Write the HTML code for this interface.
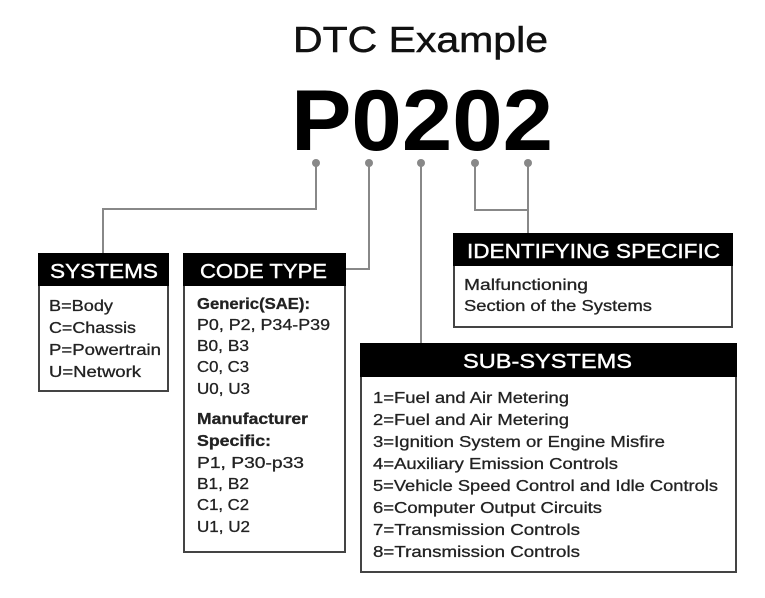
<!DOCTYPE html>
<html><head><meta charset="utf-8"><style>
body{margin:0;background:#fff;}
svg{display:block;font-family:"Liberation Sans",sans-serif;}
</style></head><body>
<svg width="765" height="598" viewBox="0 0 765 598" xmlns="http://www.w3.org/2000/svg">
<rect width="765" height="598" fill="#fff"/>
<text x="293" y="52" font-size="36" fill="#111" stroke="#111" stroke-width="0.5" textLength="255" lengthAdjust="spacingAndGlyphs">DTC Example</text>
<text x="291" y="150" font-size="86" font-weight="bold" fill="#000" textLength="262" lengthAdjust="spacingAndGlyphs">P0202</text>
<g stroke="#888" stroke-width="2" fill="none">
<polyline points="316,163 316,209 103,209 103,253"/>
<polyline points="369,163 369,269 345,269"/>
<polyline points="421,163 421,343"/>
<polyline points="475,163 475,210 528,210"/>
<polyline points="528,163 528,233"/>
</g>
<g fill="#888"><circle cx="316" cy="163" r="4"/><circle cx="369" cy="163" r="4"/><circle cx="421" cy="163" r="4"/><circle cx="475" cy="163" r="4"/><circle cx="528" cy="163" r="4"/></g>
<g font-size="20" fill="#fff" stroke="#fff" stroke-width="0.4">
<rect x="39" y="254" width="129" height="137" fill="#fff" stroke="#444" stroke-width="2"/>
<rect x="38" y="253" width="131" height="33" fill="#000" stroke="none"/>
<text x="50" y="278" textLength="108" lengthAdjust="spacingAndGlyphs">SYSTEMS</text>
<rect x="184" y="254" width="161" height="298" fill="#fff" stroke="#444" stroke-width="2"/>
<rect x="183" y="253" width="163" height="33" fill="#000" stroke="none"/>
<text x="200" y="278" textLength="127" lengthAdjust="spacingAndGlyphs">CODE TYPE</text>
<rect x="454" y="234" width="278" height="93" fill="#fff" stroke="#444" stroke-width="2"/>
<rect x="453" y="233" width="280" height="33" fill="#000" stroke="none"/>
<text x="467" y="258" textLength="253" lengthAdjust="spacingAndGlyphs">IDENTIFYING SPECIFIC</text>
<rect x="361" y="344" width="375" height="228" fill="#fff" stroke="#444" stroke-width="2"/>
<rect x="360" y="343" width="377" height="34" fill="#000" stroke="none"/>
<text x="463" y="368" textLength="169" lengthAdjust="spacingAndGlyphs">SUB-SYSTEMS</text>
</g>
<g font-size="16" fill="#222" stroke="#222" stroke-width="0.3">
<text x="49" y="311" textLength="64" lengthAdjust="spacingAndGlyphs">B=Body</text>
<text x="49" y="333" textLength="87" lengthAdjust="spacingAndGlyphs">C=Chassis</text>
<text x="49" y="355" textLength="112" lengthAdjust="spacingAndGlyphs">P=Powertrain</text>
<text x="49" y="377" textLength="92" lengthAdjust="spacingAndGlyphs">U=Network</text>

<text x="197" y="309" font-weight="bold" textLength="113" lengthAdjust="spacingAndGlyphs">Generic(SAE):</text>
<text x="197" y="330" textLength="133" lengthAdjust="spacingAndGlyphs">P0, P2, P34-P39</text>
<text x="197" y="351" textLength="52" lengthAdjust="spacingAndGlyphs">B0, B3</text>
<text x="197" y="372" textLength="52" lengthAdjust="spacingAndGlyphs">C0, C3</text>
<text x="197" y="394" textLength="53" lengthAdjust="spacingAndGlyphs">U0, U3</text>
<text x="197" y="424" font-weight="bold" textLength="111" lengthAdjust="spacingAndGlyphs">Manufacturer</text>
<text x="197" y="446" font-weight="bold" textLength="74" lengthAdjust="spacingAndGlyphs">Specific:</text>
<text x="197" y="468" textLength="107" lengthAdjust="spacingAndGlyphs">P1, P30-p33</text>
<text x="197" y="489" textLength="52" lengthAdjust="spacingAndGlyphs">B1, B2</text>
<text x="197" y="510" textLength="52" lengthAdjust="spacingAndGlyphs">C1, C2</text>
<text x="197" y="532" textLength="53" lengthAdjust="spacingAndGlyphs">U1, U2</text>

<text x="464" y="290" textLength="124" lengthAdjust="spacingAndGlyphs">Malfunctioning</text>
<text x="464" y="311" textLength="188" lengthAdjust="spacingAndGlyphs">Section of the Systems</text>

<text x="373" y="403" textLength="196" lengthAdjust="spacingAndGlyphs">1=Fuel and Air Metering</text>
<text x="373" y="425" textLength="196" lengthAdjust="spacingAndGlyphs">2=Fuel and Air Metering</text>
<text x="373" y="447" textLength="292" lengthAdjust="spacingAndGlyphs">3=Ignition System or Engine Misfire</text>
<text x="373" y="469" textLength="245" lengthAdjust="spacingAndGlyphs">4=Auxiliary Emission Controls</text>
<text x="373" y="491" textLength="345" lengthAdjust="spacingAndGlyphs">5=Vehicle Speed Control and Idle Controls</text>
<text x="373" y="513" textLength="229" lengthAdjust="spacingAndGlyphs">6=Computer Output Circuits</text>
<text x="373" y="535" textLength="207" lengthAdjust="spacingAndGlyphs">7=Transmission Controls</text>
<text x="373" y="557" textLength="207" lengthAdjust="spacingAndGlyphs">8=Transmission Controls</text>
</g>
</svg>
</body></html>
